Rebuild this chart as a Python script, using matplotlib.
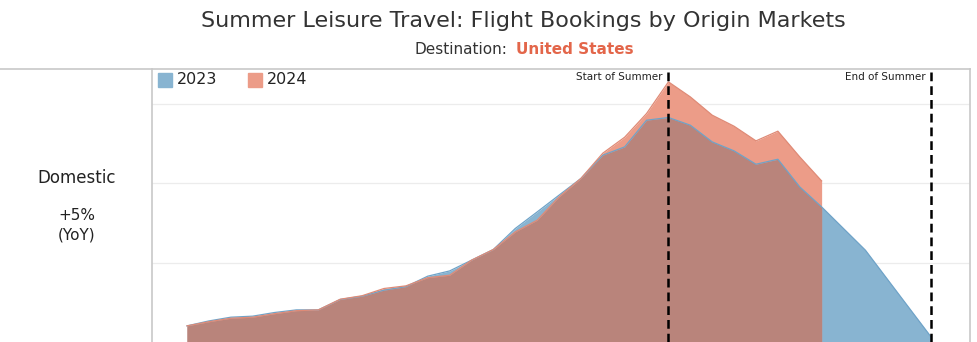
import numpy as np
import matplotlib
matplotlib.use("Agg")
import matplotlib.pyplot as plt
from matplotlib.lines import Line2D
from matplotlib.patches import Rectangle

# Weekly booking index (week number from start of season window)
weeks_2023 = list(range(0, 30)) + [31, 34]
bookings_2023 = [0.203, 0.265, 0.312, 0.325, 0.371, 0.404, 0.404, 0.535, 0.576, 0.652,
                 0.696, 0.828, 0.894, 1.029, 1.164, 1.428, 1.636, 1.847, 2.057, 2.350,
                 2.454, 2.790, 2.824, 2.727, 2.517, 2.404, 2.236, 2.299, 1.951, 1.699,
                 1.155, 0.064]

weeks_2024 = list(range(0, 30))
bookings_2024 = [0.203, 0.255, 0.299, 0.312, 0.356, 0.394, 0.404, 0.538, 0.582, 0.673,
                 0.706, 0.809, 0.840, 1.029, 1.164, 1.385, 1.532, 1.825, 2.057, 2.375,
                 2.576, 2.874, 3.272, 3.083, 2.853, 2.714, 2.530, 2.652, 2.328, 2.026]

summer_start_week = 22
summer_end_week = 34
markers = [(summer_start_week, "Start of Summer"), (summer_end_week, "End of Summer")]

row_label = "Domestic"
yoy_label = "+5%\n(YoY)"

BLUE = "#88b4d1"
RED = "#ec9c88"
OVERLAP = "#b9847b"

W, H = 977, 342
fig = plt.figure(figsize=(W / 100, H / 100), dpi=100)

# Title block
fig.text(523 / W, 1 - 21 / H, "Summer Leisure Travel: Flight Bookings by Origin Markets",
         ha="center", va="center", fontsize=16, color="#333333", family="DejaVu Sans")
fig.text(507 / W, 1 - 49 / H, "Destination:", ha="right", va="center",
         fontsize=11, color="#333333")
fig.text(516 / W, 1 - 49 / H, "United States", ha="left", va="center",
         fontsize=11, color="#e3664a", fontweight="bold")

# Row header
fig.text(77 / W, 1 - 178 / H, row_label, ha="center", va="center", fontsize=12, color="#222222")
fig.text(77 / W, 1 - 225 / H, yoy_label, ha="center", va="center", fontsize=11,
         color="#222222", linespacing=1.4)

# Panel frame
fig.add_artist(Line2D([0, 970 / W], [1 - 69 / H, 1 - 69 / H], color="#c8c8c8", lw=1.2))

ax = fig.add_axes([152 / W, 0, (970 - 152) / W, (H - 69) / H])
ax.set_xlim(-1.6, 35.78)
ax.set_ylim(0, 3.434)

for s in ["bottom", "top"]:
    ax.spines[s].set_visible(False)
for s in ["left", "right"]:
    ax.spines[s].set_color("#c8c8c8")
    ax.spines[s].set_linewidth(1.2)
ax.set_xticks([])
ax.set_yticks([1, 2, 3])
ax.set_yticklabels([])
ax.tick_params(axis="y", length=0)
ax.grid(axis="y", color="#ececec", lw=0.9)
ax.set_axisbelow(True)

x23 = np.array(weeks_2023, dtype=float)
y23 = np.array(bookings_2023)
x24 = np.array(weeks_2024, dtype=float)
y24 = np.array(bookings_2024)

ax.fill_between(x23, 0, y23, color=BLUE, lw=0, zorder=2)
ax.fill_between(x24, 0, y24, color=RED, lw=0, zorder=2)
xs = np.linspace(x24[0], x24[-1], 3000)
overlap = np.minimum(np.interp(xs, x23, y23), np.interp(xs, x24, y24))
ax.fill_between(xs, 0, overlap, color=OVERLAP, lw=0, zorder=3)
ax.plot(x23, y23, color="#6fa3c8", lw=0.9, zorder=4)
ax.plot(x24, y24, color="#df8a76", lw=0.9, zorder=4)

for wk, label in markers:
    ax.axvline(wk, color="black", lw=1.8, ls=(0, (3.5, 2)), zorder=5)
    ax.text(wk - 0.25, 3.33, label, ha="right", va="center", fontsize=7.5,
            color="#222222", zorder=6)

# Legend
for lx, name, col in [(158, "2023", BLUE), (248, "2024", RED)]:
    fig.add_artist(Rectangle((lx / W, 1 - 87 / H), 14 / W, 14 / H, color=col,
                             transform=fig.transFigure))
    fig.text((lx + 19) / W, 1 - 80 / H, name, ha="left", va="center", fontsize=11.5,
             color="#222222")

fig.savefig("out.png", dpi=100)
